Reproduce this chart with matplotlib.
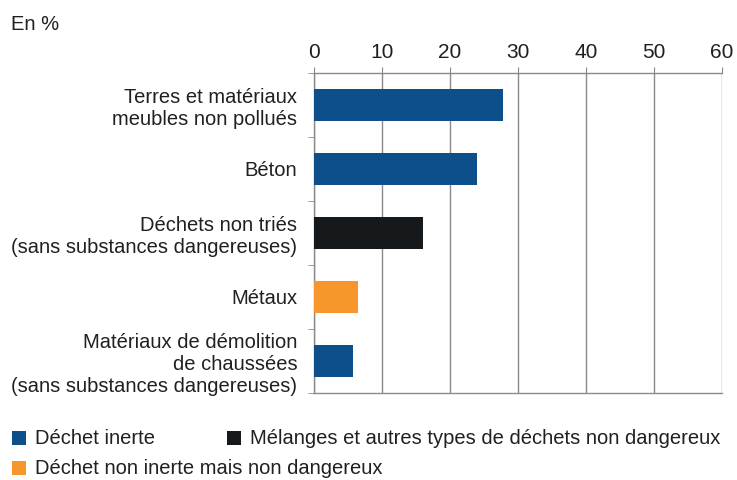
import matplotlib
matplotlib.use("Agg")
import matplotlib.pyplot as plt
from matplotlib.patches import Rectangle
from matplotlib import font_manager

names = {f.name for f in font_manager.fontManager.ttflist}
regular = "Liberation Sans" if "Liberation Sans" in names else "DejaVu Sans"
plt.rcParams["font.family"] = [regular, "DejaVu Sans"]

categories = [
    "Terres et matériaux\nmeubles non pollués",
    "Béton",
    "Déchets non triés\n(sans substances dangereuses)",
    "Métaux",
    "Matériaux de démolition\nde chaussées\n(sans substances dangereuses)",
]
values = [27.8, 24.0, 16.1, 6.4, 5.7]
groups = ["inerte", "inerte", "melange", "non_inerte", "inerte"]
group_labels = {
    "inerte": "Déchet inerte",
    "melange": "Mélanges et autres types de déchets non dangereux",
    "non_inerte": "Déchet non inerte mais non dangereux",
}
colors = {"inerte": "#0c4f8b", "melange": "#16191c", "non_inerte": "#f7962a"}
xticks = [0, 10, 20, 30, 40, 50, 60]

TXT = "#231f20"
FS = 14.5
W, H = 737, 480
fig = plt.figure(figsize=(W / 100, H / 100), dpi=100)
ax = fig.add_axes([314 / W, 1 - 393 / H, (722 - 314) / W, (393 - 73) / H])

ypos = list(range(len(categories)))
ax.barh(ypos, values, height=0.5, color=[colors[g] for g in groups], zorder=3)

ax.set_xlim(0, 60)
ax.set_ylim(len(categories) - 0.5, -0.5)
ax.xaxis.tick_top()
ax.set_xticks(xticks)
ax.set_xticklabels([str(t) for t in xticks], fontsize=15, color=TXT)
ax.tick_params(axis="x", length=4, color="#888888", pad=4)
ax.grid(axis="x", color="#8a8a8a", linewidth=1.0, zorder=0)

ax.set_yticks(ypos)
ax.set_yticklabels(categories, fontsize=FS, color=TXT, linespacing=1.2)
ax.tick_params(axis="y", which="major", length=0, pad=12)
ax.set_yticks([i + 0.5 for i in range(-1, len(categories))], minor=True)
ax.tick_params(axis="y", which="minor", length=4, color="#888888")

for s in ax.spines.values():
    s.set_color("#8a8a8a")
    s.set_linewidth(1.0)
ax.spines["right"].set_visible(False)

fig.text(11 / W, 1 - 25 / H, "En %", fontsize=FS, color=TXT, va="center")

# legend entries: (group, x of square, y centre)
legend_layout = [("inerte", 12, 438), ("melange", 227, 438), ("non_inerte", 12, 468)]
sq = 14
for g, x, y in legend_layout:
    fig.add_artist(Rectangle((x / W, (H - y - sq / 2) / H), sq / W, sq / H,
                             transform=fig.transFigure, facecolor=colors[g], edgecolor="none"))
    fig.text((x + sq + 9) / W, 1 - y / H, group_labels[g], fontsize=FS, color=TXT, va="center")

fig.savefig("out.png", dpi=100)
